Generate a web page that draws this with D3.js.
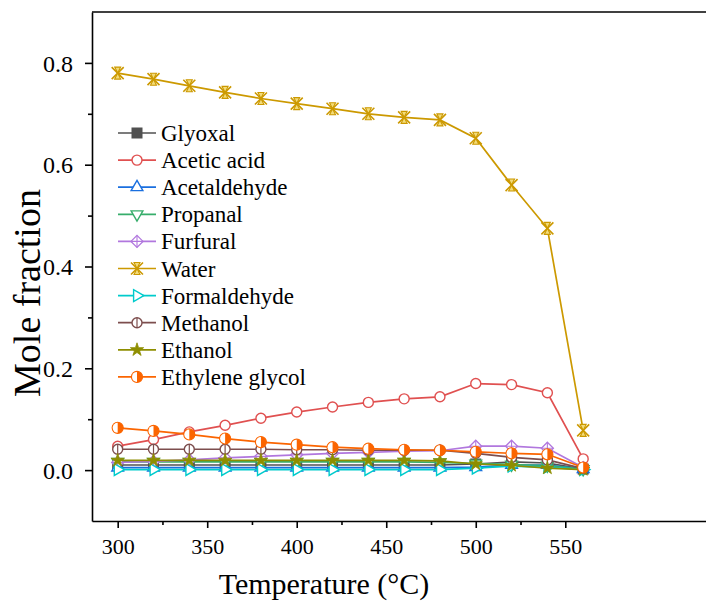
<!DOCTYPE html>
<html>
<head>
<meta charset="utf-8">
<script src="https://cdn.jsdelivr.net/npm/d3@7"></script>
<style>
  body { margin: 0; background: #fff; }
  svg { display: block; }
</style>
</head>
<body>
<div id="chart"></div>
<script>
let width = 706,
    height = 612,
    margin = {top: 12, right: 0, bottom: 91, left: 92};

const serif = "'Liberation Serif', 'Times New Roman', 'DejaVu Serif', serif";

// temperatures (°C)
const temps = [300, 320, 340, 360, 380, 400, 420, 440, 460, 480, 500, 520, 540, 560];

const glyoxal       = [0.010, 0.010, 0.010, 0.010, 0.010, 0.010, 0.010, 0.010, 0.010, 0.010, 0.012, 0.016, 0.014, 0.002];
const aceticAcid    = [0.047, 0.060, 0.075, 0.088, 0.102, 0.114, 0.124, 0.133, 0.140, 0.144, 0.170, 0.168, 0.152, 0.022];
const acetaldehyde  = [0.005, 0.005, 0.005, 0.005, 0.005, 0.005, 0.005, 0.005, 0.005, 0.005, 0.006, 0.010, 0.010, 0.002];
const propanal      = [0.016, 0.016, 0.016, 0.016, 0.016, 0.016, 0.016, 0.016, 0.016, 0.015, 0.013, 0.011, 0.009, 0.002];
const furfural      = [0.015, 0.017, 0.020, 0.024, 0.027, 0.030, 0.033, 0.035, 0.037, 0.038, 0.047, 0.047, 0.043, 0.005];
const water         = [0.780, 0.768, 0.755, 0.742, 0.730, 0.720, 0.710, 0.700, 0.693, 0.688, 0.652, 0.560, 0.475, 0.078];
const formaldehyde  = [0.001, 0.001, 0.001, 0.001, 0.001, 0.001, 0.001, 0.001, 0.001, 0.001, 0.004, 0.008, 0.006, 0.001];
const methanol      = [0.041, 0.041, 0.041, 0.041, 0.041, 0.040, 0.040, 0.039, 0.039, 0.039, 0.033, 0.025, 0.020, 0.003];
const ethanol       = [0.019, 0.019, 0.019, 0.019, 0.019, 0.019, 0.019, 0.019, 0.019, 0.018, 0.012, 0.009, 0.004, 0.001];
const ethyleneGlyc  = [0.083, 0.077, 0.070, 0.062, 0.055, 0.050, 0.045, 0.042, 0.040, 0.039, 0.036, 0.033, 0.031, 0.005];

const names = ["Glyoxal", "Acetic acid", "Acetaldehyde", "Propanal", "Furfural",
               "Water", "Formaldehyde", "Methanol", "Ethanol", "Ethylene glycol"];
const values = [glyoxal, aceticAcid, acetaldehyde, propanal, furfural,
                water, formaldehyde, methanol, ethanol, ethyleneGlyc];
const colors = ["#515151", "#e05050", "#1A6FDF", "#37AD6B", "#B177DE",
                "#CC9900", "#00CBCC", "#7D4E4E", "#8E8E00", "#FB6501"];
const symbols = ["square", "circle", "triUp", "triDown", "circlePlus",
                 "cross", "triRight", "circleBar", "star", "halfCircle"];

const xTicks = [300, 350, 400, 450, 500, 550];
const xMinor = [325, 375, 425, 475, 525];
const yTicks = [0.0, 0.2, 0.4, 0.6, 0.8];
const yMinor = [0.1, 0.3, 0.5, 0.7];

const series = names.map((n, i) => ({
  name: n, color: colors[i], symbol: symbols[i],
  points: temps.map((t, j) => ({t: t, v: values[i][j]}))
}));

const svg = d3.select("#chart")
  .append("svg")
  .attr("width", width)
  .attr("height", height)
  .attr("font-family", serif);

const x = d3.scaleLinear().domain([285.65, 628.6]).range([margin.left, width - margin.right]);
const y = d3.scaleLinear().domain([-0.1, 0.9]).range([height - margin.bottom, margin.top]);

// marker drawing
function marker(g, sym, color) {
  const r = 5;
  if (sym === "square") {
    g.append("rect").attr("x", -r).attr("y", -r).attr("width", 2 * r).attr("height", 2 * r)
      .attr("fill", color).attr("stroke", color);
  } else if (sym === "circle") {
    g.append("circle").attr("r", r).attr("fill", "#fff").attr("stroke", color).attr("stroke-width", 1.4);
  } else if (sym === "triUp" || sym === "triDown" || sym === "triRight") {
    const rot = sym === "triUp" ? 0 : sym === "triDown" ? 180 : 90;
    g.append("path").attr("d", d3.symbol(d3.symbolTriangle, 60)())
      .attr("transform", "rotate(" + rot + ")")
      .attr("fill", "#fff").attr("stroke", color).attr("stroke-width", 1.4);
  } else if (sym === "circlePlus") {
    g.append("path").attr("d", "M0,-6L6,0L0,6L-6,0Z")
      .attr("fill", "#fff").attr("stroke", color).attr("stroke-width", 1.3);
    g.append("path").attr("d", "M-6,0H6M0,-6V6").attr("stroke", color).attr("stroke-width", 1.1);
  } else if (sym === "cross") {
    g.append("path").attr("d", "M-6,-6L6,6M-6,6L6,-6").attr("stroke", color).attr("stroke-width", 1.6);
    g.append("path").attr("d", "M-3,-6L0,0L3,-6ZM-3,6L0,0L3,6Z")
      .attr("fill", "#f3dc7a").attr("stroke", color).attr("stroke-width", 1.1);
  } else if (sym === "circleBar") {
    g.append("circle").attr("r", r).attr("fill", "#fff").attr("stroke", color).attr("stroke-width", 1.4);
    g.append("path").attr("d", "M0,-5V5").attr("stroke", color).attr("stroke-width", 1.2);
  } else if (sym === "star") {
    g.append("path").attr("d", d3.symbol(d3.symbolStar, 55)())
      .attr("fill", color).attr("stroke", color).attr("stroke-width", 0.8);
  } else if (sym === "halfCircle") {
    g.append("circle").attr("r", r + 0.5).attr("fill", color).attr("stroke", color).attr("stroke-width", 1.2);
    g.append("path").attr("d", "M0,-5A5,5 0 0,0 0,5Z").attr("fill", "#fff");
  }
}

const line = d3.line()
  .x(d => x(d.t))
  .y(d => y(d.v));

// lines
const layer = svg.selectAll(".series")
  .data(series)
  .enter().append("g")
    .attr("class", "series");

layer.append("path")
  .attr("fill", "none")
  .attr("stroke", d => d.color)
  .attr("stroke-width", 1.7)
  .attr("d", d => line(d.points));

layer.each(function(s) {
  d3.select(this).selectAll(".pt")
    .data(s.points)
    .enter().append("g")
      .attr("class", "pt")
      .attr("transform", d => "translate(" + x(d.t) + "," + y(d.v) + ")")
      .each(function() { marker(d3.select(this), s.symbol, s.color); });
});

// axes
const xAxis = svg.append("g")
  .attr("transform", "translate(0," + (height - margin.bottom) + ")")
  .call(d3.axisBottom(x).tickValues(xTicks).tickSize(7).tickSizeOuter(0).tickPadding(10).tickFormat(d3.format("d")));
svg.append("g")
  .attr("transform", "translate(0," + (height - margin.bottom) + ")")
  .call(d3.axisBottom(x).tickValues(xMinor).tickSize(4).tickSizeOuter(0).tickFormat(""))
  .call(g => g.select(".domain").remove());

const yAxis = svg.append("g")
  .attr("transform", "translate(" + margin.left + ",0)")
  .call(d3.axisLeft(y).tickValues(yTicks).tickSize(7).tickSizeOuter(0).tickPadding(12).tickFormat(d3.format(".1f")));
svg.append("g")
  .attr("transform", "translate(" + margin.left + ",0)")
  .call(d3.axisLeft(y).tickValues(yMinor).tickSize(4).tickSizeOuter(0).tickFormat(""))
  .call(g => g.select(".domain").remove());

svg.selectAll(".domain, .tick line").attr("stroke", "#000").attr("stroke-width", 1.6);
xAxis.attr("font-family", serif).attr("font-size", 22);
yAxis.attr("font-family", serif).attr("font-size", 24);
yAxis.selectAll(".tick text").attr("dy", "0.34em");

// top frame line
svg.append("line")
  .attr("x1", margin.left).attr("x2", width)
  .attr("y1", margin.top).attr("y2", margin.top)
  .attr("stroke", "#000").attr("stroke-width", 1.6);

// axis titles
svg.append("text")
  .attr("x", 324).attr("y", 594)
  .attr("text-anchor", "middle")
  .attr("font-size", 30)
  .text("Temperature (°C)");

svg.append("text")
  .attr("transform", "translate(40," + 293 + ") rotate(-90)")
  .attr("text-anchor", "middle")
  .attr("font-size", 38)
  .text("Mole fraction");

// legend
const legend = svg.append("g")
  .attr("transform", "translate(118,133)");

const item = legend.selectAll(".item")
  .data(series)
  .enter().append("g")
    .attr("class", "item")
    .attr("transform", (d, i) => "translate(0," + (i * 27.1) + ")");

item.append("line")
  .attr("x1", 0).attr("x2", 38)
  .attr("stroke", d => d.color)
  .attr("stroke-width", 1.7);

item.append("g")
  .attr("transform", "translate(19,0)")
  .each(function(d) { marker(d3.select(this), d.symbol, d.color); });

item.append("text")
  .attr("x", 43)
  .attr("dy", "0.35em")
  .attr("font-size", 23)
  .text(d => d.name);
</script>
</body>
</html>
